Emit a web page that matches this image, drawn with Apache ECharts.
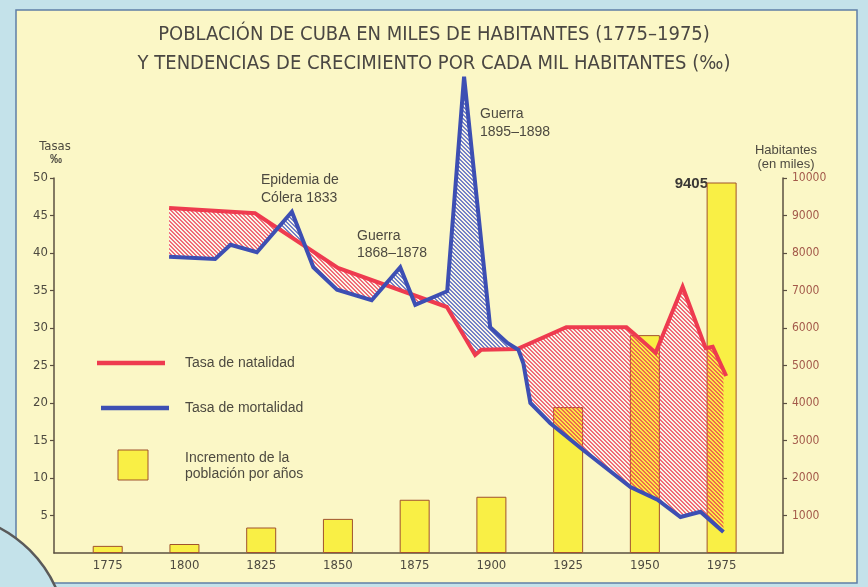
<!DOCTYPE html>
<html>
<head>
<meta charset="utf-8">
<style>
  html, body { margin: 0; padding: 0; background: #c4e2ea; }
  #chart { width: 868px; height: 587px; }
</style>
<script src="https://cdn.jsdelivr.net/npm/echarts@6/dist/echarts.min.js"></script>
</head>
<body>
<div id="chart"></div>
<script>
// Tasa de natalidad (por mil)
const natYears = [1795, 1823, 1850, 1885.5, 1894.7, 1896.7, 1908.4, 1924.4, 1944, 1946.3, 1953.5, 1962.3, 1969.8, 1972.1, 1976.5]
const natRates = [46.0, 45.3, 38.0, 32.8, 26.4, 27.1, 27.2, 30.1, 30.1, 29.3, 26.7, 35.5, 27.3, 27.5, 23.6]

// Tasa de mortalidad (por mil)
const morYears = [1795, 1810, 1815, 1823.6, 1835, 1842, 1849.7, 1861, 1870.3, 1875.2, 1885.6, 1891.1, 1899.6, 1905.2, 1908.8, 1910.4, 1912.7, 1919.2, 1930, 1945.3, 1954.1, 1961.6, 1968.1, 1975.6]
const morRates = [39.5, 39.2, 41.1, 40.1, 45.5, 38.1, 35.1, 33.7, 38.1, 33.1, 34.9, 63.5, 30.1, 28.0, 27.1, 25.3, 20.0, 17.3, 13.7, 8.8, 7.1, 4.8, 5.5, 2.8]

// Habitantes en miles (altura dibujada de las barras)
const popYears = [1775, 1800, 1825, 1850, 1875, 1900, 1925, 1950, 1975]
const popValues = [190, 240, 680, 910, 1420, 1500, 3890, 5810, 9880]
const lastPopLabel = '9405'

const rateTicks = [5, 10, 15, 20, 25, 30, 35, 40, 45, 50]
const popTicks = [1000, 2000, 3000, 4000, 5000, 6000, 7000, 8000, 9000, 10000]

const narrow = "'Liberation Sans Narrow', 'DejaVu Sans Condensed', 'Roboto', sans-serif"
const plain = "'Liberation Sans', 'DejaVu Sans', sans-serif"
const axisColor = '#5b5040'
const textColor = '#4d4a40'

function makeHatch (rgba) {
  const c = document.createElement('canvas')
  c.width = 4
  c.height = 4
  const ctx = c.getContext('2d')
  ctx.fillStyle = rgba
  for (let y = 0; y < 4; y++) {
    for (let x = 0; x < 4; x++) {
      if (((x - y) % 4 + 4) % 4 < 2) ctx.fillRect(x, y, 1, 1)
    }
  }
  return { image: c, repeat: 'repeat' }
}
const redHatch = makeHatch('rgba(238,62,82,0.75)')
const blueHatch = makeHatch('rgba(60,80,184,0.7)')

function valueAt (xs, vs, x) {
  for (let i = 0; i < xs.length - 1; i++) {
    if (x <= xs[i + 1]) return vs[i] + (vs[i + 1] - vs[i]) * (x - xs[i]) / (xs[i + 1] - xs[i])
  }
  return vs[vs.length - 1]
}

// tramos entre las dos curvas, separados en los cruces
function buildRuns () {
  const lo = Math.max(natYears[0], morYears[0])
  const hi = Math.min(natYears[natYears.length - 1], morYears[morYears.length - 1])
  const xs = Array.from(new Set(natYears.concat(morYears, [lo, hi])))
    .filter(x => x >= lo && x <= hi).sort((a, b) => a - b)
  const pts = []
  xs.forEach(x => {
    const r = valueAt(natYears, natRates, x)
    const m = valueAt(morYears, morRates, x)
    const p = pts[pts.length - 1]
    if (p) {
      const d0 = p.r - p.m
      const d1 = r - m
      if (d0 * d1 < 0) {
        const t = d0 / (d0 - d1)
        const cy = p.r + t * (r - p.r)
        pts.push({ x: p.x + t * (x - p.x), r: cy, m: cy })
      }
    }
    pts.push({ x, r, m })
  })
  const runs = []
  let cur = null
  pts.forEach(p => {
    const d = p.r - p.m
    const sign = d > 1e-9 ? 1 : (d < -1e-9 ? -1 : 0)
    if (!cur) {
      cur = { sign, pts: [p] }
      runs.push(cur)
      return
    }
    cur.pts.push(p)
    if (sign === 0) {
      cur = { sign: 0, pts: [p] }
      runs.push(cur)
    } else if (cur.sign === 0) {
      cur.sign = sign
    }
  })
  return runs.filter(r => r.pts.length > 1)
}
const runs = buildRuns()

function hatchRender (base) {
  return function (params, api) {
    const children = runs.map(run => {
      const top = run.pts.map(p => api.coord([p.x, p.r]))
      const bottom = run.pts.slice().reverse().map(p => api.coord([p.x, p.m]))
      let fill
      if (base) fill = '#f9f6ea'
      else fill = run.sign >= 0 ? redHatch : blueHatch
      return {
        type: 'polygon',
        shape: { points: top.concat(bottom) },
        style: { fill: fill }
      }
    })
    return { type: 'group', children }
  }
}

const chart = echarts.init(document.getElementById('chart'))

const option = {
  backgroundColor: '#c4e2ea',
  animation: false,
  title: {
    text: 'POBLACIÓN DE CUBA EN MILES DE HABITANTES (1775–1975)\nY TENDENCIAS DE CRECIMIENTO POR CADA MIL HABITANTES (‰)',
    left: 'center',
    top: 15,
    textStyle: {
      fontFamily: narrow,
      fontSize: 20,
      fontWeight: 'normal',
      color: '#4a4742',
      lineHeight: 29
    }
  },
  grid: { left: 54, right: 85, top: 178, bottom: 34, containLabel: false },
  xAxis: {
    type: 'value',
    min: 1757.5,
    max: 1995,
    splitLine: { show: false },
    axisLine: { lineStyle: { color: axisColor, width: 1.5 } },
    axisTick: { show: false },
    axisLabel: {
      customValues: popYears,
      formatter: v => String(v),
      margin: 6,
      color: textColor,
      fontFamily: narrow,
      fontSize: 13
    }
  },
  yAxis: [
    {
      type: 'value',
      min: 0,
      max: 50,
      interval: 5,
      splitLine: { show: false },
      axisLine: { show: true, lineStyle: { color: axisColor, width: 1.5 } },
      axisTick: { show: true, length: 4, customValues: rateTicks, lineStyle: { color: axisColor, width: 1.2 } },
      axisLabel: {
        customValues: rateTicks,
        formatter: v => String(v),
        margin: 6,
        color: textColor,
        fontFamily: narrow,
        fontSize: 13
      }
    },
    {
      type: 'value',
      position: 'right',
      min: 0,
      max: 10000,
      interval: 1000,
      splitLine: { show: false },
      axisLine: { show: true, lineStyle: { color: axisColor, width: 1.5 } },
      axisTick: { show: true, length: 4, customValues: popTicks, lineStyle: { color: axisColor, width: 1.2 } },
      axisLabel: {
        customValues: popTicks,
        formatter: v => String(v),
        margin: 9,
        color: '#a3594a',
        fontFamily: narrow,
        fontSize: 12
      }
    }
  ],
  series: [
    {
      name: 'fondo',
      type: 'custom',
      z: 1,
      silent: true,
      clip: false,
      data: [0],
      renderItem: hatchRender(true)
    },
    {
      name: 'Incremento de la población por años',
      type: 'bar',
      yAxisIndex: 1,
      z: 2,
      barWidth: 30,
      data: popYears.map((y, i) => [y, popValues[i]]),
      itemStyle: { color: '#f9ef45', borderColor: '#a0522d', borderWidth: 1 }
    },
    {
      name: 'rayado',
      type: 'custom',
      z: 3,
      silent: true,
      clip: false,
      data: [0],
      renderItem: hatchRender(false)
    },
    {
      name: 'Tasa de natalidad',
      type: 'line',
      z: 4,
      clip: false,
      showSymbol: false,
      data: natYears.map((y, i) => [y, natRates[i]]),
      lineStyle: { color: '#ee3b4f', width: 4, join: 'miter' }
    },
    {
      name: 'Tasa de mortalidad',
      type: 'line',
      z: 5,
      clip: false,
      showSymbol: false,
      data: morYears.map((y, i) => [y, morRates[i]]),
      lineStyle: { color: '#3d4fb3', width: 4, join: 'miter', miterLimit: 6 }
    }
  ],
  graphic: [
    {
      type: 'rect',
      z: -100,
      silent: true,
      shape: { x: 16, y: 10, width: 841, height: 573 },
      style: { fill: '#fbf7c6', stroke: '#5f7fa6', lineWidth: 1.5 }
    },
    {
      type: 'circle',
      z: 100,
      silent: true,
      shape: { cx: -60, cy: 640, r: 127 },
      style: { fill: '#c4e2ea', stroke: '#5a5a5a', lineWidth: 2.5 }
    },
    // etiquetas de ejes
    { type: 'text', x: 55, y: 147, style: { text: 'Tasas', align: 'center', verticalAlign: 'middle', font: '13px ' + narrow, fill: textColor } },
    { type: 'text', x: 56, y: 160, style: { text: '‰', align: 'center', verticalAlign: 'middle', font: 'bold 12px ' + plain, fill: textColor } },
    { type: 'text', x: 786, y: 150, style: { text: 'Habitantes', align: 'center', verticalAlign: 'middle', font: '13px ' + plain, fill: textColor } },
    { type: 'text', x: 786, y: 164, style: { text: '(en miles)', align: 'center', verticalAlign: 'middle', font: '13px ' + plain, fill: textColor } },
    // anotaciones
    { type: 'text', x: 261, y: 171, style: { text: 'Epidemia de\nCólera 1833', lineHeight: 18, font: '14px ' + plain, fill: textColor } },
    { type: 'text', x: 357, y: 228, style: { text: 'Guerra\n1868–1878', lineHeight: 17, font: '14px ' + plain, fill: textColor } },
    { type: 'text', x: 480, y: 105, style: { text: 'Guerra\n1895–1898', lineHeight: 18, font: '14px ' + plain, fill: textColor } },
    { type: 'text', x: 708, y: 184, style: { text: lastPopLabel, align: 'right', verticalAlign: 'middle', font: 'bold 15px ' + plain, fill: '#3a3835' } },
    // leyenda
    { type: 'line', shape: { x1: 97, y1: 363, x2: 165, y2: 363 }, style: { stroke: '#ee3b4f', lineWidth: 4.5 } },
    { type: 'line', shape: { x1: 101, y1: 408, x2: 169, y2: 408 }, style: { stroke: '#3d4fb3', lineWidth: 4.5 } },
    { type: 'rect', shape: { x: 118, y: 450, width: 30, height: 30 }, style: { fill: '#f9ef45', stroke: '#a0522d', lineWidth: 1 } },
    { type: 'text', x: 185, y: 363, style: { text: 'Tasa de natalidad', verticalAlign: 'middle', font: '14px ' + plain, fill: textColor } },
    { type: 'text', x: 185, y: 408, style: { text: 'Tasa de mortalidad', verticalAlign: 'middle', font: '14px ' + plain, fill: textColor } },
    { type: 'text', x: 185, y: 450, style: { text: 'Incremento de la\npoblación por años', lineHeight: 16, font: '14px ' + plain, fill: textColor } }
  ]
}

chart.setOption(option)
</script>
</body>
</html>
